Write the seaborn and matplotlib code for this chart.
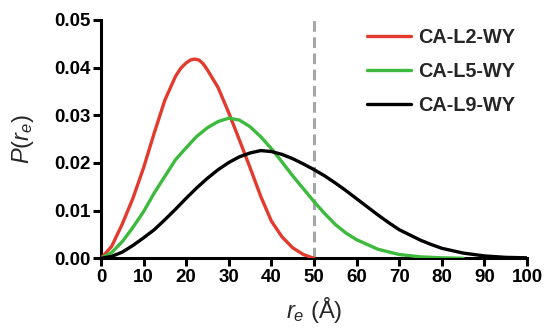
import numpy as np
import pandas as pd
import matplotlib
matplotlib.use("Agg")
import matplotlib.pyplot as plt
import seaborn as sns
from matplotlib.lines import Line2D

# --- data ---
series_names = ["CA-L2-WY", "CA-L5-WY", "CA-L9-WY"]
colors = ["#e23b2e", "#3dba3d", "#000000"]

r_l2 = [0, 2.5, 5, 7.5, 10, 12.5, 15, 17.5, 18.75, 20, 21, 22, 23, 24, 25,
        27.5, 30, 32.5, 35, 37.5, 40, 42.5, 45, 47.5, 50]
p_l2 = [0.0, 0.0025, 0.0072, 0.0126, 0.0190, 0.0263, 0.0332, 0.0382, 0.0399,
        0.0410, 0.0416, 0.0418, 0.0416, 0.0408, 0.0395, 0.0358, 0.0305,
        0.0248, 0.0190, 0.0130, 0.0078, 0.0045, 0.0022, 0.0008, 0.0]

r_l5 = [0, 2.5, 5, 7.5, 10, 12.5, 15, 17.5, 20, 22.5, 25, 27.5, 30, 32.5, 35,
        37.5, 40, 42.5, 45, 47.5, 50, 52.5, 55, 57.5, 60, 65, 70, 75, 80, 85]
p_l5 = [0.0, 0.0012, 0.0035, 0.0065, 0.0098, 0.0137, 0.0172, 0.0207, 0.0232,
        0.0256, 0.0274, 0.0287, 0.0294, 0.0290, 0.0276, 0.0255, 0.0230,
        0.0202, 0.0173, 0.0146, 0.0119, 0.0094, 0.0071, 0.0053, 0.0039,
        0.0019, 0.0008, 0.0003, 0.0001, 0.0]

r_l9 = [0, 2.5, 5, 7.5, 10, 12.5, 15, 17.5, 20, 22.5, 25, 27.5, 30, 32.5, 35,
        37.5, 40, 42.5, 45, 47.5, 50, 52.5, 55, 57.5, 60, 62.5, 65, 67.5, 70,
        72.5, 75, 77.5, 80, 85, 90, 95, 100]
p_l9 = [0.0, 0.0004, 0.0013, 0.0027, 0.0043, 0.0060, 0.0081, 0.0103, 0.0126,
        0.0148, 0.0168, 0.0186, 0.0201, 0.0213, 0.0221, 0.0226, 0.0224,
        0.0218, 0.0209, 0.0198, 0.0186, 0.0173, 0.0158, 0.0142, 0.0125,
        0.0108, 0.0091, 0.0075, 0.0060, 0.0049, 0.0038, 0.0029, 0.0021,
        0.0011, 0.0005, 0.0002, 0.0001]

x_ticks = [0, 10, 20, 30, 40, 50, 60, 70, 80, 90, 100]
y_ticks = [0.00, 0.01, 0.02, 0.03, 0.04, 0.05]
cutoff = 50

df = pd.concat([
    pd.DataFrame({"r": r_l2, "P": p_l2, "construct": series_names[0]}),
    pd.DataFrame({"r": r_l5, "P": p_l5, "construct": series_names[1]}),
    pd.DataFrame({"r": r_l9, "P": p_l9, "construct": series_names[2]}),
], ignore_index=True)

sns.set_style("ticks")
plt.rcParams["font.family"] = ["Liberation Sans", "DejaVu Sans"]
plt.rcParams["mathtext.fontset"] = "custom"
plt.rcParams["mathtext.rm"] = "Liberation Sans"
plt.rcParams["mathtext.it"] = "Liberation Sans:italic"
plt.rcParams["lines.solid_joinstyle"] = "round"

fig = plt.figure(figsize=(5.45, 3.33), dpi=100)
ax = fig.add_axes([0.1853, 0.2243, 0.7817, 0.7157])

ax.axvline(cutoff, color="#a6a6a6", lw=2.2, ls=(0, (3.5, 1.8)), zorder=1)

sns.lineplot(data=df, x="r", y="P", hue="construct", hue_order=series_names,
             palette=colors, linewidth=2.4, ax=ax, legend=False, zorder=3)
for ln in ax.get_lines():
    ln.set_solid_joinstyle("round")

ax.set_xlim(0, 100)
ax.set_ylim(0, 0.05)
ax.set_xticks(x_ticks)
ax.set_yticks(y_ticks)
ax.set_yticklabels([f"{v:.2f}" for v in y_ticks])
ax.set_xticklabels([str(v) for v in x_ticks])

for lab in ax.get_xticklabels() + ax.get_yticklabels():
    lab.set_fontweight("bold")
    lab.set_fontsize(13.5)
ax.tick_params(axis="both", direction="out", length=5.5, width=2.2, pad=2,
               colors="black")
for s in ["left", "bottom"]:
    ax.spines[s].set_linewidth(2.2)
    ax.spines[s].set_color("black")
sns.despine(ax=ax)

ax.set_xlabel(r"$r_e$ (Å)", fontsize=17, labelpad=7)
ax.set_ylabel(r"$P(r_e)$", fontsize=17, labelpad=13)

handles = [Line2D([], [], color=c, lw=2.4) for c in colors]
leg = ax.legend(handles, series_names, loc="upper right", frameon=False,
                prop={"weight": "bold", "size": 14.3}, handlelength=2.2,
                handletextpad=0.4, labelspacing=0.75,
                bbox_to_anchor=(1.015, 1.04))

fig.savefig("out.png", dpi=100)
